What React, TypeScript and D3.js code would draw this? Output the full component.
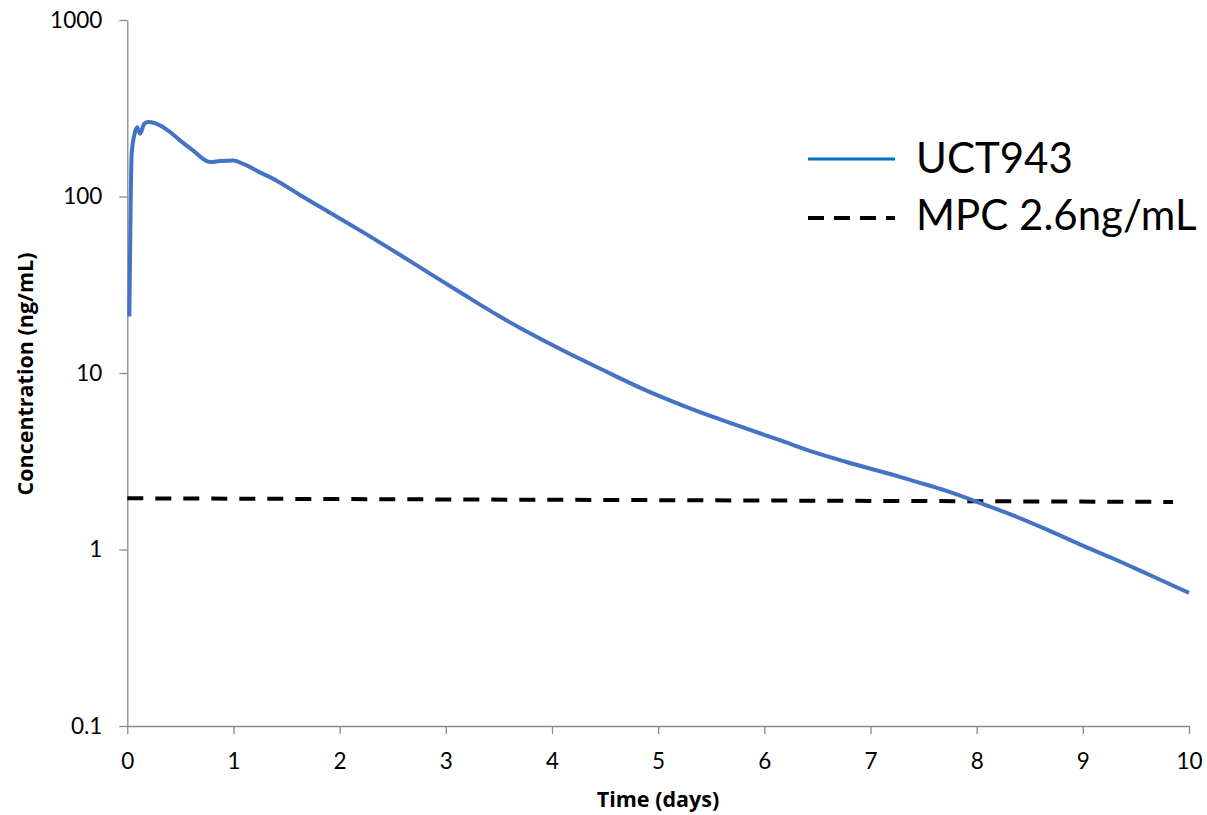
import React, { useEffect, useRef } from "react";
import * as d3 from "d3";

// UCT943 concentration-time profile
const days = [
  0.019, 0.032, 0.041, 0.073, 0.094, 0.12, 0.16, 0.198, 0.308, 0.402, 0.496,
  0.621, 0.779, 0.873, 0.998, 1.092, 1.249, 1.407, 1.626, 1.94, 2.254, 2.567,
  2.881, 3.195, 3.509, 3.823, 4.137, 4.451, 4.891, 5.204, 5.518, 5.832,
  6.145, 6.459, 6.774, 7.276, 7.401, 7.716, 8.029, 8.343, 8.657, 8.971, 9.285,
  9.599, 10.0,
];
const uct943 = [
  20.9, 95, 175, 232, 247, 227, 258, 264, 253, 232, 208,
  182, 157, 159, 160, 153, 137, 123, 102, 79, 61, 46.8,
  35.6, 27.2, 20.9, 16.4, 13.1, 10.6, 7.95, 6.65, 5.64, 4.84,
  4.16, 3.57, 3.13, 2.58, 2.45, 2.15, 1.84, 1.56, 1.3, 1.07, 0.889,
  0.731, 0.568,
];

// MPC reference line
const mpcDays = [0, 9.85];
const mpcConc = [1.95, 1.86];

const yTicks = [0.1, 1, 10, 100, 1000];
const xTicks = [0, 1, 2, 3, 4, 5, 6, 7, 8, 9, 10];
const legendLabels = ["UCT943", "MPC 2.6ng/mL"];

const FONT = "Lato, 'Noto Sans', sans-serif";
const TITLE_FONT = "'Open Sans', 'Noto Sans', sans-serif";

export default function App() {
  const ref = useRef<SVGSVGElement>(null);

  useEffect(() => {
    const svg = d3.select(ref.current);
    svg.selectAll("*").remove();

    const x = d3.scaleLinear().domain([0, 10]).range([127.3, 1189]);
    const y = d3.scaleLog().domain([0.1, 1000]).range([726, 20]);

    // y axis
    const gy = svg
      .append("g")
      .attr("transform", `translate(${x(0)},0)`)
      .call(
        d3
          .axisLeft(y)
          .tickValues(yTicks)
          .tickFormat((d) => String(d))
          .tickSize(8)
          .tickSizeOuter(0)
          .tickPadding(17)
      );

    // x axis
    const gx = svg
      .append("g")
      .attr("transform", `translate(0,${y(0.1)})`)
      .call(
        d3
          .axisBottom(x)
          .tickValues(xTicks)
          .tickFormat((d) => String(d))
          .tickSize(8)
          .tickSizeOuter(0)
          .tickPadding(19)
      );

    [gy, gx].forEach((g) => {
      g.select(".domain").attr("stroke", "#898989").attr("stroke-width", 1.3);
      g.selectAll(".tick line").attr("stroke", "#898989").attr("stroke-width", 1.3);
      g.selectAll(".tick text")
        .attr("fill", "#000")
        .style("font-family", FONT)
        .style("font-size", "22.5px");
    });

    // axis titles
    svg
      .append("text")
      .attr("x", 658)
      .attr("y", 807)
      .attr("text-anchor", "middle")
      .style("font-family", TITLE_FONT)
      .style("font-weight", "bold")
      .style("font-size", "21.5px")
      .text("Time (days)");

    svg
      .append("text")
      .attr("transform", "translate(33,374) rotate(-90)")
      .attr("text-anchor", "middle")
      .style("font-family", TITLE_FONT)
      .style("font-weight", "bold")
      .style("font-size", "21.5px")
      .text("Concentration (ng/mL)");

    // MPC dashed line
    const mpcData = mpcDays.map((d, i) => [d, mpcConc[i]] as [number, number]);
    svg
      .append("path")
      .datum(mpcData)
      .attr("fill", "none")
      .attr("stroke", "#000")
      .attr("stroke-width", 4)
      .attr("stroke-dasharray", "16 12")
      .attr(
        "d",
        d3
          .line<[number, number]>()
          .x((d) => x(d[0]))
          .y((d) => y(d[1]))
      );

    // UCT943 curve
    const data = days.map((d, i) => [d, uct943[i]] as [number, number]);
    svg
      .append("path")
      .datum(data)
      .attr("fill", "none")
      .attr("stroke", "#4472C4")
      .attr("stroke-width", 4)
      .attr("stroke-linejoin", "round")
      .attr(
        "d",
        d3
          .line<[number, number]>()
          .x((d) => x(d[0]))
          .y((d) => y(d[1]))
          .curve(d3.curveMonotoneX)
      );

    // legend
    const legend = svg.append("g");
    const rows = [
      { label: legendLabels[0], y: 159, base: 173, color: "#0070C0", dash: null, w: 3 },
      { label: legendLabels[1], y: 218, base: 230, color: "#000", dash: "16 10", w: 4 },
    ];
    rows.forEach((r) => {
      legend
        .append("line")
        .attr("x1", 808)
        .attr("x2", 895)
        .attr("y1", r.y)
        .attr("y2", r.y)
        .attr("stroke", r.color)
        .attr("stroke-width", r.w)
        .attr("stroke-dasharray", r.dash);
      legend
        .append("text")
        .attr("x", 916)
        .attr("y", r.base)
        .style("font-family", FONT)
        .style("font-size", "42px")
        .attr("fill", "#000")
        .text(r.label);
    });
  }, []);

  return (
    <svg
      ref={ref}
      width={1207}
      height={815}
      style={{ position: "absolute", left: 0, top: 0, background: "#fff" }}
    />
  );
}
